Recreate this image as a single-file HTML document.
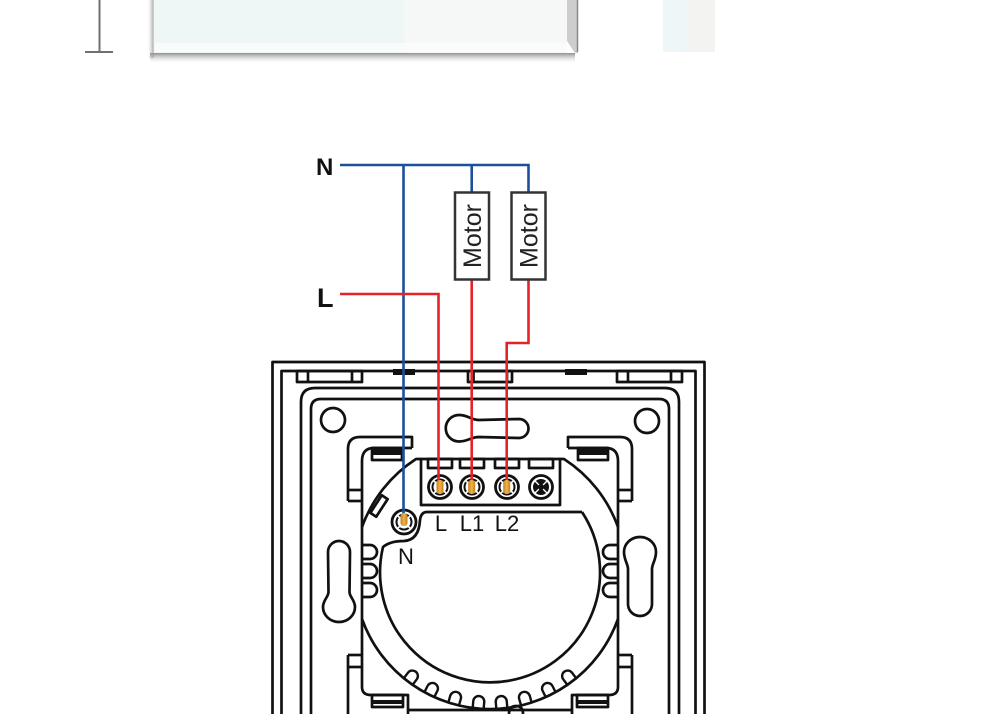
<!DOCTYPE html>
<html><head><meta charset="utf-8">
<style>
html,body{margin:0;padding:0;background:#fff;}
svg{display:block;}
text{font-family:"Liberation Sans",Arial,sans-serif;}
</style></head>
<body>
<svg width="1000" height="714" viewBox="0 0 1000 714" xmlns="http://www.w3.org/2000/svg">
<defs>
<linearGradient id="shB" x1="0" y1="0" x2="0" y2="1">
 <stop offset="0" stop-color="#8f8f8f"/><stop offset="1" stop-color="#ffffff" stop-opacity="0"/>
</linearGradient>
<linearGradient id="shL" x1="1" y1="0" x2="0" y2="0">
 <stop offset="0" stop-color="#9a9a9a"/><stop offset="1" stop-color="#ffffff" stop-opacity="0"/>
</linearGradient>
<linearGradient id="org" x1="0" y1="0" x2="1" y2="0">
 <stop offset="0" stop-color="#c4821a"/><stop offset="0.5" stop-color="#efb24c"/><stop offset="1" stop-color="#c4821a"/>
</linearGradient>
</defs>

<!-- ===== top panel fragment ===== -->
<rect x="147" y="0" width="7" height="58" fill="url(#shL)"/>
<rect x="150" y="53" width="425" height="11" fill="url(#shB)"/>
<rect x="153" y="0" width="414" height="53" fill="#eef6f6"/>
<rect x="404" y="0" width="163" height="53" fill="#f5f8f7"/>
<rect x="155" y="43" width="412" height="9" fill="#fafcfc"/>
<path d="M567,0 H578 V53 L575,53 L567,41 Z" fill="#cdcdcd"/>
<line x1="577.5" y1="0" x2="577.5" y2="52" stroke="#8a8a8a" stroke-width="1.5"/>
<line x1="153.5" y1="0" x2="153.5" y2="53" stroke="#c9cfcf" stroke-width="1"/>

<line x1="99.5" y1="0" x2="99.5" y2="52" stroke="#707070" stroke-width="2"/>
<line x1="85" y1="52" x2="113" y2="52" stroke="#707070" stroke-width="2"/>

<rect x="663" y="0" width="24" height="52" fill="#eef6f7"/>
<rect x="687" y="0" width="28" height="52" fill="#f3f4f2"/>

<!-- ===== switch drawing ===== -->
<g fill="none" stroke="#111" stroke-width="2.7" stroke-linejoin="round">
 <path d="M272.5,714 V362 H704.5 V714"/>
 <path d="M281.5,714 V371 H695.5 V714"/>
 <path d="M301,714 V402 Q301,388 315,388 H665 Q679,388 679,402 V714"/>
 <path d="M311,714 V409 Q311,399 321,399 H659 Q669,399 669,409 V714"/>
 <rect x="297" y="371" width="65" height="11"/>
 <line x1="308" y1="371" x2="308" y2="382"/>
 <line x1="352" y1="371" x2="352" y2="382"/>
 <rect x="468" y="371" width="44" height="11"/>
 <line x1="473.5" y1="371" x2="473.5" y2="382"/>
 <line x1="507" y1="371" x2="507" y2="382"/>
 <rect x="617" y="371" width="65" height="11"/>
 <line x1="628" y1="371" x2="628" y2="382"/>
 <line x1="671" y1="371" x2="671" y2="382"/>
 <circle cx="333" cy="420" r="12"/>
 <circle cx="647" cy="421" r="12"/>
 <path d="M459,415 C468,415 471,420 479,420 L519,419 A9.5 9.5 0 0 1 519,438 L479,437 C471,437 468,441.5 459,441.5 A13.25 13.25 0 0 1 459,415 Z"/>
 <path d="M328,552 A11 11 0 0 1 350,552 L349.5,592 C349.5,597 355,600 355,607 A16 15 0 0 1 323,607 C323,600 328.5,597 328.5,592 Z"/>
 <path d="M628,604 L628,569 C628,564 624,560 624,552 A16 15 0 0 1 656,552 C656,560 652,564 652,569 L652,604 A12 12 0 0 1 628,604 Z"/>
 <path d="M509,714 Q509,706 516,706 Q523,706 523,714"/>

 <path d="M348,501 V449 Q348,437 360,437 H412 V448"/>
 <path d="M412,448 H374 Q362,448 362,461 V687 Q362,695 371,695 H408 V714"/>
 <line x1="348" y1="490" x2="362" y2="490"/>
 <line x1="348" y1="501" x2="362" y2="501"/>
 <line x1="348" y1="655" x2="362" y2="655"/>
 <line x1="348" y1="667" x2="362" y2="667"/>
 <line x1="348" y1="655" x2="348" y2="714"/>
 <rect x="372" y="448" width="30" height="12"/>
 <rect x="372" y="695" width="31" height="12"/>
 <path d="M632,501 V449 Q632,437 620,437 H568 V448"/>
 <path d="M568,448 H606 Q618,448 618,461 V687 Q618,695 609,695 H572 V714"/>
 <line x1="618" y1="490" x2="632" y2="490"/>
 <line x1="618" y1="501" x2="632" y2="501"/>
 <line x1="618" y1="655" x2="632" y2="655"/>
 <line x1="618" y1="667" x2="632" y2="667"/>
 <line x1="632" y1="655" x2="632" y2="714"/>
 <rect x="578" y="448" width="30" height="12"/>
 <rect x="577" y="695" width="31" height="12"/>
 <line x1="408" y1="710" x2="572" y2="710"/>

 <path d="M421,459 H416 A136 136 0 0 0 362,527"/>
 <path d="M362,619 A136 136 0 0 0 618,619"/>
 <path d="M618,527 A136 136 0 0 0 564,459 H559"/>
 <rect x="421" y="459" width="139" height="46"/>
 <rect x="428" y="459" width="24" height="9"/>
 <rect x="460" y="459" width="24" height="9"/>
 <rect x="495" y="459" width="24" height="9"/>
 <rect x="529" y="459" width="24" height="9"/>
 <path d="M582,512 H427 Q421,512 420,520 Q419,540 404,541 Q390,541 383,547 A110 110 0 1 0 582,512"/>
 <rect x="-10.5" y="-3.5" width="21" height="7" transform="translate(379,506) rotate(-57)"/>
 <path d="M362,545 H370 A7 7 0 0 1 370,559 H362"/>
 <path d="M362,564 H370 A7 7 0 0 1 370,578 H362"/>
 <path d="M362,583 H370 A7 7 0 0 1 370,597 H362"/>
 <path d="M618,545 H610 A7 7 0 0 0 610,559 H618"/>
 <path d="M618,564 H610 A7 7 0 0 0 610,578 H618"/>
 <path d="M618,583 H610 A7 7 0 0 0 610,597 H618"/>
 <g stroke-width="2.4">
  <path transform="translate(490,573) rotate(37) translate(0,129)" d="M-5.5,8 V0 A5.5 5.5 0 0 1 5.5,0 V8"/>
  <path transform="translate(490,573) rotate(26.5) translate(0,129)" d="M-5.5,8 V0 A5.5 5.5 0 0 1 5.5,0 V8"/>
  <path transform="translate(490,573) rotate(15.5) translate(0,129)" d="M-5.5,8 V0 A5.5 5.5 0 0 1 5.5,0 V8"/>
  <path transform="translate(490,573) rotate(5) translate(0,129)" d="M-5.5,8 V0 A5.5 5.5 0 0 1 5.5,0 V8"/>
  <path transform="translate(490,573) rotate(-5) translate(0,129)" d="M-5.5,8 V0 A5.5 5.5 0 0 1 5.5,0 V8"/>
  <path transform="translate(490,573) rotate(-15.5) translate(0,129)" d="M-5.5,8 V0 A5.5 5.5 0 0 1 5.5,0 V8"/>
  <path transform="translate(490,573) rotate(-26.5) translate(0,129)" d="M-5.5,8 V0 A5.5 5.5 0 0 1 5.5,0 V8"/>
  <path transform="translate(490,573) rotate(-37) translate(0,129)" d="M-5.5,8 V0 A5.5 5.5 0 0 1 5.5,0 V8"/>
 </g>
</g>
<g fill="#111">
 <rect x="393" y="369" width="22" height="6"/>
 <rect x="565" y="369" width="22" height="6"/>
 <rect x="372" y="448" width="30" height="7"/>
 <rect x="578" y="448" width="30" height="7"/>
 <rect x="372" y="700" width="31" height="4"/>
 <rect x="577" y="700" width="31" height="4"/>
</g>

<g stroke="#111">
 <g transform="translate(440,487)">
  <circle r="11.5" fill="#fff" stroke-width="2.8"/>
  <circle r="7.5" fill="none" stroke-width="2"/>
  <path d="M-6,-6 L6,6 M6,-6 L-6,6" stroke="#fff" stroke-width="1.6"/>
 </g>
 <g transform="translate(472,487)">
  <circle r="11.5" fill="#fff" stroke-width="2.8"/>
  <circle r="7.5" fill="none" stroke-width="2"/>
  <path d="M-6,-6 L6,6 M6,-6 L-6,6" stroke="#fff" stroke-width="1.6"/>
 </g>
 <g transform="translate(507,487)">
  <circle r="11.5" fill="#fff" stroke-width="2.8"/>
  <circle r="7.5" fill="none" stroke-width="2"/>
  <path d="M-6,-6 L6,6 M6,-6 L-6,6" stroke="#fff" stroke-width="1.6"/>
 </g>
 <g transform="translate(541,487)">
  <circle r="11.5" fill="#fff" stroke-width="2.8"/>
  <circle r="7.5" fill="#111" stroke-width="1"/>
  <path d="M-6,-6 L6,6 M6,-6 L-6,6" stroke="#fff" stroke-width="1.3"/>
  <circle r="3" fill="#111" stroke="none"/>
 </g>
 <g transform="translate(404,522)">
  <circle r="12" fill="#fff" stroke-width="2.8"/>
  <circle r="7.5" fill="none" stroke-width="2"/>
  <path d="M-6,-6 L6,6 M6,-6 L-6,6" stroke="#fff" stroke-width="1.6"/>
 </g>
</g>

<g font-size="22" fill="#111" text-anchor="middle">
 <text x="441" y="531">L</text>
 <text x="472" y="531">L1</text>
 <text x="507" y="531">L2</text>
 <text x="406" y="564">N</text>
</g>

<g fill="none" stroke-width="2.6" stroke-linejoin="miter">
 <path d="M340,165 H528.5 V192" stroke="#1d4f9a"/>
 <line x1="471.7" y1="165" x2="471.7" y2="192" stroke="#1d4f9a"/>
 <line x1="403.5" y1="165" x2="403.5" y2="516" stroke="#1d4f9a"/>
 <path d="M340,294 H438.5 V482" stroke="#e52226"/>
 <line x1="471.7" y1="279" x2="471.7" y2="482" stroke="#e52226"/>
 <path d="M528.5,279 V343 H506.7 V482" stroke="#e52226"/>
</g>

<g fill="url(#org)">
 <rect x="436.5" y="480" width="7" height="14" rx="3"/>
 <rect x="468.2" y="480" width="7" height="14" rx="3"/>
 <rect x="503.2" y="480" width="7" height="14" rx="3"/>
 <rect x="400.5" y="513" width="7" height="13" rx="3"/>
</g>

<g fill="#fff" stroke="#333" stroke-width="2.5">
 <rect x="455" y="192.5" width="34" height="87"/>
 <rect x="511.5" y="192.5" width="34" height="87"/>
</g>
<g font-size="25" fill="#222" text-anchor="middle">
 <text transform="translate(481,236) rotate(-90)">Motor</text>
 <text transform="translate(537.5,236) rotate(-90)">Motor</text>
</g>

<text x="316" y="175" font-size="24" font-weight="bold" fill="#111">N</text>
<text x="317" y="307" font-size="27" font-weight="bold" fill="#111">L</text>
</svg>
</body></html>
